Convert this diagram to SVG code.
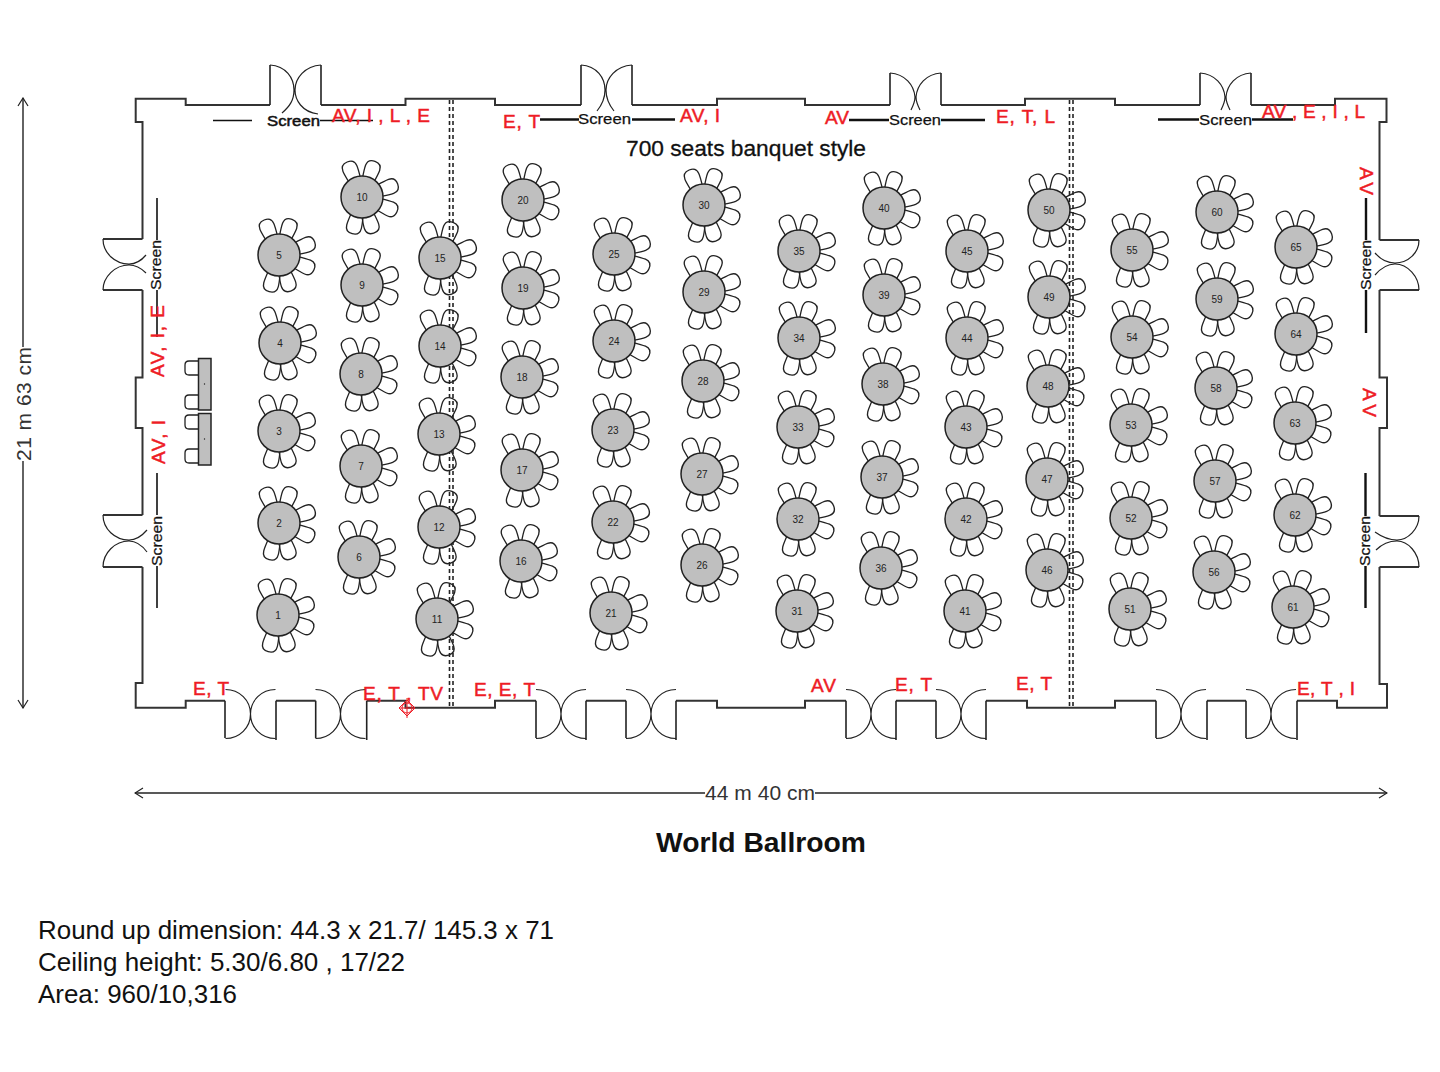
<svg xmlns="http://www.w3.org/2000/svg" xmlns:xlink="http://www.w3.org/1999/xlink" width="1440" height="1072" viewBox="0 0 1440 1072">
<style>
text{font-family:"Liberation Sans",Arial,sans-serif}
.w{fill:none;stroke:#333;stroke-width:2}
.d{fill:none;stroke:#222;stroke-width:1.2}
.p{fill:none;stroke:#222;stroke-width:1.6;stroke-dasharray:4 3}
.s{fill:none;stroke:#111;stroke-width:1.6}
.s2{fill:none;stroke:#111;stroke-width:2.4}
.ch{fill:none;stroke:#222;stroke-width:1.3}
.tb{fill:#bfbfbf;stroke:#222;stroke-width:1.5}
.n{font-size:10px;text-anchor:middle;fill:#222}
.r{font-size:19px;fill:#ee1c25;stroke:#ee1c25;stroke-width:.5}
.sc{font-size:15px;fill:#111;stroke:#111;stroke-width:.25}
.dim{font-size:21px;fill:#333}
.note{font-size:26px;fill:#111}
.dl{fill:none;stroke:#222;stroke-width:1.4}
</style>
<defs>
<marker id="arr" viewBox="0 0 12 12" refX="11" refY="6" markerWidth="12" markerHeight="12" markerUnits="userSpaceOnUse" orient="auto-start-reverse"><path d="M3,1 L11,6 L3,11" fill="none" stroke="#222" stroke-width="1.2"/></marker>
<g id="c">
<path id="c1" class="ch" transform="rotate(-113)" d="M18,-6C24,-7 28,-7.5 31,-7.5C36,-7.5 38,-4 38,0C38,4 36,7.5 31,7.5C28,7.5 24,7 18,6"/>
<path class="ch" transform="rotate(-70)" d="M18,-6C24,-7 28,-7.5 31,-7.5C36,-7.5 38,-4 38,0C38,4 36,7.5 31,7.5C28,7.5 24,7 18,6"/>
<path class="ch" transform="rotate(-20)" d="M18,-6C24,-7 28,-7.5 31,-7.5C36,-7.5 38,-4 38,0C38,4 36,7.5 31,7.5C28,7.5 24,7 18,6"/>
<path class="ch" transform="rotate(23)" d="M18,-6C24,-7 28,-7.5 31,-7.5C36,-7.5 38,-4 38,0C38,4 36,7.5 31,7.5C28,7.5 24,7 18,6"/>
<path class="ch" transform="rotate(72)" d="M18,-6C24,-7 28,-7.5 31,-7.5C36,-7.5 38,-4 38,0C38,4 36,7.5 31,7.5C28,7.5 24,7 18,6"/>
<path class="ch" transform="rotate(105)" d="M18,-6C24,-7 28,-7.5 31,-7.5C36,-7.5 38,-4 38,0C38,4 36,7.5 31,7.5C28,7.5 24,7 18,6"/>
<circle class="tb" r="21"/>
</g>
<path id="bd" class="d" d="M-25,-24.500C-11,-24.500 0,-13.500 0,0C0,13.500 -11,24.500 -25,24.500M25,-24.500C11,-24.500 0,-13.500 0,0C0,13.500 11,24.500 25,24.500"/>
</defs>

<g id="partitions">
<path class="p" d="M449.500,100V708M453,100V708M1069.500,100V708M1073,100V708"/>
</g>

<g id="walls">
<path class="w" d="M270,105H185.700V98.700H135.700V122H142.500V239M321,105H405.500V98.700H495V105H581M632,105H717V98.700H805V105H890M941,105H1025V98.700H1115V105H1200M1251,105H1335V98.700H1386.500V122H1379.500V240"/>
<path class="w" d="M1379.500,290V377.500H1387V428H1379.500V516M1379.500,567V684H1387V707.700H1337V700.700H1297M1246,700.700H1207M1156,700.700H1115V707.700H1027V700.700H986M936,700.700H896M846,700.700H805V707.700H717V700.700H676M626,700.700H586M536,700.700H495V707.700H405.500V700.700H366.700M315.700,700.700H276M225,700.700H185.700V707.700H135.700V683H142.500V567M142.500,515V428H135.700V377.500H142.500V290M142.500,239H103M142.500,290H103M142.500,515H103M142.500,567H103"/>
<path class="w" d="M1379.500,240H1419M1379.500,290H1419M1379.500,516H1419M1379.500,567H1419"/>
<path class="d" style="stroke-width:1.6" d="M270,105V65M321,105V65M581,105V65M632,105V65M890,105V73M941,105V73M1200,105V73M1251,105V73M225,700.700V738M276,700.700V740M315.700,700.700V738M366.700,700.700V740M536,700.700V738M586,700.700V740M626,700.700V738M676,700.700V740M846,700.700V738M896,700.700V740M936,700.700V738M986,700.700V740M1156,700.700V738M1207,700.700V740M1246,700.700V738M1297,700.700V740"/>
</g>

<g id="doors">
<path class="d" d="M270,65C286,66 294,78 294,90C294,100 290,106 282,113M321,65C305,66 295,78 295,90C295,100 302,112 318,114"/>
<path class="d" d="M581,65C597,66 605,78 605,90C605,98 601,106 597,111M632,65C616,66 606,78 606,90C606,98 610,106 614,111"/>
<path class="d" d="M890,73C905,74 914,85 915,97C915,102 913,106 911,110M941,73C926,74 917,85 916,97C916,102 918,106 920,110"/>
<path class="d" d="M1200,73C1215,74 1224,85 1225,97C1225,102 1223,106 1221,110M1251,73C1236,74 1227,85 1226,97C1226,102 1228,106 1230,110"/>
<path class="d" d="M103,239C103,253 115,264 129,264C135,264 141,261 146,255M103,290C103,277 115,265 129,265C135,265 141,268 146,273"/>
<path class="d" d="M103,515C103,529 115,540 129,540C135,540 141,537 147,530M103,567C103,553 115,541 129,541C135,541 141,544 147,552"/>
<path class="d" d="M1419,240C1419,253 1408,263 1395,263C1388,263 1381,260 1375,253M1419,290C1419,277 1408,264 1395,264C1388,264 1381,268 1375,275"/>
<path class="d" d="M1419,516C1419,529 1408,540 1397,540C1389,540 1382,537 1375,532M1419,567C1419,553 1408,541 1397,541C1389,541 1382,544 1376,550"/>
<use href="#bd" x="250.500" y="714"/><use href="#bd" x="340.500" y="714"/><use href="#bd" x="561" y="714"/><use href="#bd" x="651" y="714"/><use href="#bd" x="871" y="714"/><use href="#bd" x="961" y="714"/><use href="#bd" x="1181" y="714"/><use href="#bd" x="1271" y="714"/>
</g>

<g id="screens">
<path class="s" d="M213,120.500H252M320,120.500H373M157,198V240M157,290V337M157,473V515M157,566V608"/>
<path class="s2" d="M540,119.500H579M632,119.500H675M849,120H889M941,120H985M1158,119.500H1199M1252,119.500H1293M1366,198V240M1366,290V333M1365.500,473V516M1365.500,566V608"/>
<text class="sc" x="267" y="126" textLength="53" lengthAdjust="spacingAndGlyphs" style="stroke-width:.5">Screen</text>
<text class="sc" x="578" y="124" textLength="53" lengthAdjust="spacingAndGlyphs">Screen</text>
<text class="sc" x="889" y="125" textLength="52" lengthAdjust="spacingAndGlyphs">Screen</text>
<text class="sc" x="1199" y="125" textLength="53" lengthAdjust="spacingAndGlyphs">Screen</text>
<text class="sc" transform="translate(161,290) rotate(-90)" textLength="50" lengthAdjust="spacingAndGlyphs">Screen</text>
<text class="sc" transform="translate(162,566) rotate(-90)" textLength="50" lengthAdjust="spacingAndGlyphs">Screen</text>
<text class="sc" transform="translate(1371,290) rotate(-90)" textLength="50" lengthAdjust="spacingAndGlyphs">Screen</text>
<text class="sc" transform="translate(1370,566) rotate(-90)" textLength="50" lengthAdjust="spacingAndGlyphs">Screen</text>
</g>

<g id="head-table">
<rect class="tb" x="198.500" y="358.500" width="12.500" height="51.500"/>
<rect class="tb" x="198.500" y="413.500" width="12.500" height="51.500"/>
<path class="ch" d="M198,361H189Q185,361 185,365V371Q185,375 189,375H198M198,395H189Q185,395 185,399V405Q185,409 189,409H198M198,415H189Q185,415 185,419V425Q185,429 189,429H198M198,449H189Q185,449 185,453V459Q185,463 189,463H198"/>
<circle cx="204.500" cy="384" r=".7" fill="#222"/><circle cx="204.500" cy="439" r=".7" fill="#222"/>
</g>

<g id="tables">
<g id="t1" transform="translate(278,615)"><use href="#c"/><text class="n" y="4">1</text></g>
<g id="t2" transform="translate(279,523)"><use href="#c"/><text class="n" y="4">2</text></g>
<g id="t3" transform="translate(279,431)"><use href="#c"/><text class="n" y="4">3</text></g>
<g id="t4" transform="translate(280,343)"><use href="#c"/><text class="n" y="4">4</text></g>
<g id="t5" transform="translate(279,255)"><use href="#c"/><text class="n" y="4">5</text></g>
<g id="t6" transform="translate(359,557)"><use href="#c"/><text class="n" y="4">6</text></g>
<g id="t7" transform="translate(361,466)"><use href="#c"/><text class="n" y="4">7</text></g>
<g id="t8" transform="translate(361,374)"><use href="#c"/><text class="n" y="4">8</text></g>
<g id="t9" transform="translate(362,285)"><use href="#c"/><text class="n" y="4">9</text></g>
<g id="t10" transform="translate(362,197)"><use href="#c"/><text class="n" y="4">10</text></g>
<g id="t11" transform="translate(437,619)"><use href="#c"/><text class="n" y="4">11</text></g>
<g id="t12" transform="translate(439,527)"><use href="#c"/><text class="n" y="4">12</text></g>
<g id="t13" transform="translate(439,434)"><use href="#c"/><text class="n" y="4">13</text></g>
<g id="t14" transform="translate(440,346)"><use href="#c"/><text class="n" y="4">14</text></g>
<g id="t15" transform="translate(440,258)"><use href="#c"/><text class="n" y="4">15</text></g>
<g id="t16" transform="translate(521,561)"><use href="#c"/><text class="n" y="4">16</text></g>
<g id="t17" transform="translate(522,470)"><use href="#c"/><text class="n" y="4">17</text></g>
<g id="t18" transform="translate(522,377)"><use href="#c"/><text class="n" y="4">18</text></g>
<g id="t19" transform="translate(523,288)"><use href="#c"/><text class="n" y="4">19</text></g>
<g id="t20" transform="translate(523,200)"><use href="#c"/><text class="n" y="4">20</text></g>
<g id="t21" transform="translate(611,613)"><use href="#c"/><text class="n" y="4">21</text></g>
<g id="t22" transform="translate(613,522)"><use href="#c"/><text class="n" y="4">22</text></g>
<g id="t23" transform="translate(613,430)"><use href="#c"/><text class="n" y="4">23</text></g>
<g id="t24" transform="translate(614,341)"><use href="#c"/><text class="n" y="4">24</text></g>
<g id="t25" transform="translate(614,254)"><use href="#c"/><text class="n" y="4">25</text></g>
<g id="t26" transform="translate(702,565)"><use href="#c"/><text class="n" y="4">26</text></g>
<g id="t27" transform="translate(702,474)"><use href="#c"/><text class="n" y="4">27</text></g>
<g id="t28" transform="translate(703,381)"><use href="#c"/><text class="n" y="4">28</text></g>
<g id="t29" transform="translate(704,292)"><use href="#c"/><text class="n" y="4">29</text></g>
<g id="t30" transform="translate(704,205)"><use href="#c"/><text class="n" y="4">30</text></g>
<g id="t31" transform="translate(797,611)"><use href="#c"/><text class="n" y="4">31</text></g>
<g id="t32" transform="translate(798,519)"><use href="#c"/><text class="n" y="4">32</text></g>
<g id="t33" transform="translate(798,427)"><use href="#c"/><text class="n" y="4">33</text></g>
<g id="t34" transform="translate(799,338)"><use href="#c"/><text class="n" y="4">34</text></g>
<g id="t35" transform="translate(799,251)"><use href="#c"/><text class="n" y="4">35</text></g>
<g id="t36" transform="translate(881,568)"><use href="#c"/><text class="n" y="4">36</text></g>
<g id="t37" transform="translate(882,477)"><use href="#c"/><text class="n" y="4">37</text></g>
<g id="t38" transform="translate(883,384)"><use href="#c"/><text class="n" y="4">38</text></g>
<g id="t39" transform="translate(884,295)"><use href="#c"/><text class="n" y="4">39</text></g>
<g id="t40" transform="translate(884,208)"><use href="#c"/><text class="n" y="4">40</text></g>
<g id="t41" transform="translate(965,611)"><use href="#c"/><text class="n" y="4">41</text></g>
<g id="t42" transform="translate(966,519)"><use href="#c"/><text class="n" y="4">42</text></g>
<g id="t43" transform="translate(966,427)"><use href="#c"/><text class="n" y="4">43</text></g>
<g id="t44" transform="translate(967,338)"><use href="#c"/><text class="n" y="4">44</text></g>
<g id="t45" transform="translate(967,251)"><use href="#c"/><text class="n" y="4">45</text></g>
<g id="t46" transform="translate(1047,570)"><use href="#c"/><text class="n" y="4">46</text></g>
<g id="t47" transform="translate(1047,479)"><use href="#c"/><text class="n" y="4">47</text></g>
<g id="t48" transform="translate(1048,386)"><use href="#c"/><text class="n" y="4">48</text></g>
<g id="t49" transform="translate(1049,297)"><use href="#c"/><text class="n" y="4">49</text></g>
<g id="t50" transform="translate(1049,210)"><use href="#c"/><text class="n" y="4">50</text></g>
<g id="t51" transform="translate(1130,609)"><use href="#c"/><text class="n" y="4">51</text></g>
<g id="t52" transform="translate(1131,518)"><use href="#c"/><text class="n" y="4">52</text></g>
<g id="t53" transform="translate(1131,425)"><use href="#c"/><text class="n" y="4">53</text></g>
<g id="t54" transform="translate(1132,337)"><use href="#c"/><text class="n" y="4">54</text></g>
<g id="t55" transform="translate(1132,250)"><use href="#c"/><text class="n" y="4">55</text></g>
<g id="t56" transform="translate(1214,572)"><use href="#c"/><text class="n" y="4">56</text></g>
<g id="t57" transform="translate(1215,481)"><use href="#c"/><text class="n" y="4">57</text></g>
<g id="t58" transform="translate(1216,388)"><use href="#c"/><text class="n" y="4">58</text></g>
<g id="t59" transform="translate(1217,299)"><use href="#c"/><text class="n" y="4">59</text></g>
<g id="t60" transform="translate(1217,212)"><use href="#c"/><text class="n" y="4">60</text></g>
<g id="t61" transform="translate(1293,607)"><use href="#c"/><text class="n" y="4">61</text></g>
<g id="t62" transform="translate(1295,515)"><use href="#c"/><text class="n" y="4">62</text></g>
<g id="t63" transform="translate(1295,423)"><use href="#c"/><text class="n" y="4">63</text></g>
<g id="t64" transform="translate(1296,334)"><use href="#c"/><text class="n" y="4">64</text></g>
<g id="t65" transform="translate(1296,247)"><use href="#c"/><text class="n" y="4">65</text></g>
</g>

<g id="service-labels">
<text class="r" x="332" y="122" textLength="98" lengthAdjust="spacing">AV, I , L , E</text>
<text class="r" x="503" y="128" textLength="37" lengthAdjust="spacing">E, T</text>
<text class="r" x="680" y="122" textLength="40" lengthAdjust="spacing">AV, I</text>
<text class="r" x="825" y="124" textLength="24" lengthAdjust="spacing">AV</text>
<text class="r" x="996" y="123" textLength="59" lengthAdjust="spacing">E, T, L</text>
<text class="r" x="1262" y="118" textLength="103" lengthAdjust="spacing">AV , E , I , L</text>
<text class="r" transform="translate(164,377) rotate(-90)" textLength="72" lengthAdjust="spacing">AV, I, E</text>
<text class="r" transform="translate(165,464) rotate(-90)" textLength="44" lengthAdjust="spacing">AV, I</text>
<text class="r" transform="translate(1360,167) rotate(90)" textLength="28" lengthAdjust="spacing">AV</text>
<text class="r" transform="translate(1363,388) rotate(90)" textLength="29" lengthAdjust="spacing">AV</text>
<text class="r" x="193" y="695" textLength="36" lengthAdjust="spacing">E, T</text>
<text class="r" x="363" y="700" textLength="80" lengthAdjust="spacing">E, T , TV</text>
<text class="r" x="474" y="696" textLength="61" lengthAdjust="spacing">E, E, T</text>
<text class="r" x="811" y="692" textLength="25" lengthAdjust="spacing">AV</text>
<text class="r" x="895" y="691" textLength="37" lengthAdjust="spacing">E, T</text>
<text class="r" x="1016" y="690" textLength="36" lengthAdjust="spacing">E, T</text>
<text class="r" x="1297" y="695" textLength="58" lengthAdjust="spacing">E, T , I</text>
</g>

<g id="marker-tv" fill="none" stroke="#ee1c25" stroke-width="1">
<path d="M407,700L415,708L407,716L399,708ZM407,698V718M399,708H415"/><circle cx="407" cy="708" r="5"/>
</g>

<g id="dimensions">
<path class="dl" d="M23,347V98" marker-end="url(#arr)"/>
<path class="dl" d="M23,461V708" marker-end="url(#arr)"/>
<path class="dl" d="M705,793H135" marker-end="url(#arr)"/>
<path class="dl" d="M815,793H1387" marker-end="url(#arr)"/>
<text class="dim" transform="translate(31,461) rotate(-90)" textLength="114" lengthAdjust="spacing">21 m 63 cm</text>
<text class="dim" x="705" y="800" textLength="110" lengthAdjust="spacing">44 m 40 cm</text>
</g>

<g id="titles">
<text x="626" y="156" font-size="22" fill="#111" stroke="#111" stroke-width=".3" textLength="240" lengthAdjust="spacingAndGlyphs">700 seats banquet style</text>
<text x="656" y="852" font-size="28" font-weight="bold" fill="#111" textLength="210" lengthAdjust="spacingAndGlyphs">World Ballroom</text>
<text class="note" x="38" y="939" textLength="516" lengthAdjust="spacingAndGlyphs">Round up dimension: 44.3 x 21.7/ 145.3 x 71</text>
<text class="note" x="38" y="971" textLength="367" lengthAdjust="spacingAndGlyphs">Ceiling height: 5.30/6.80 , 17/22</text>
<text class="note" x="38" y="1003" textLength="199" lengthAdjust="spacingAndGlyphs">Area: 960/10,316</text>
</g>
</svg>
